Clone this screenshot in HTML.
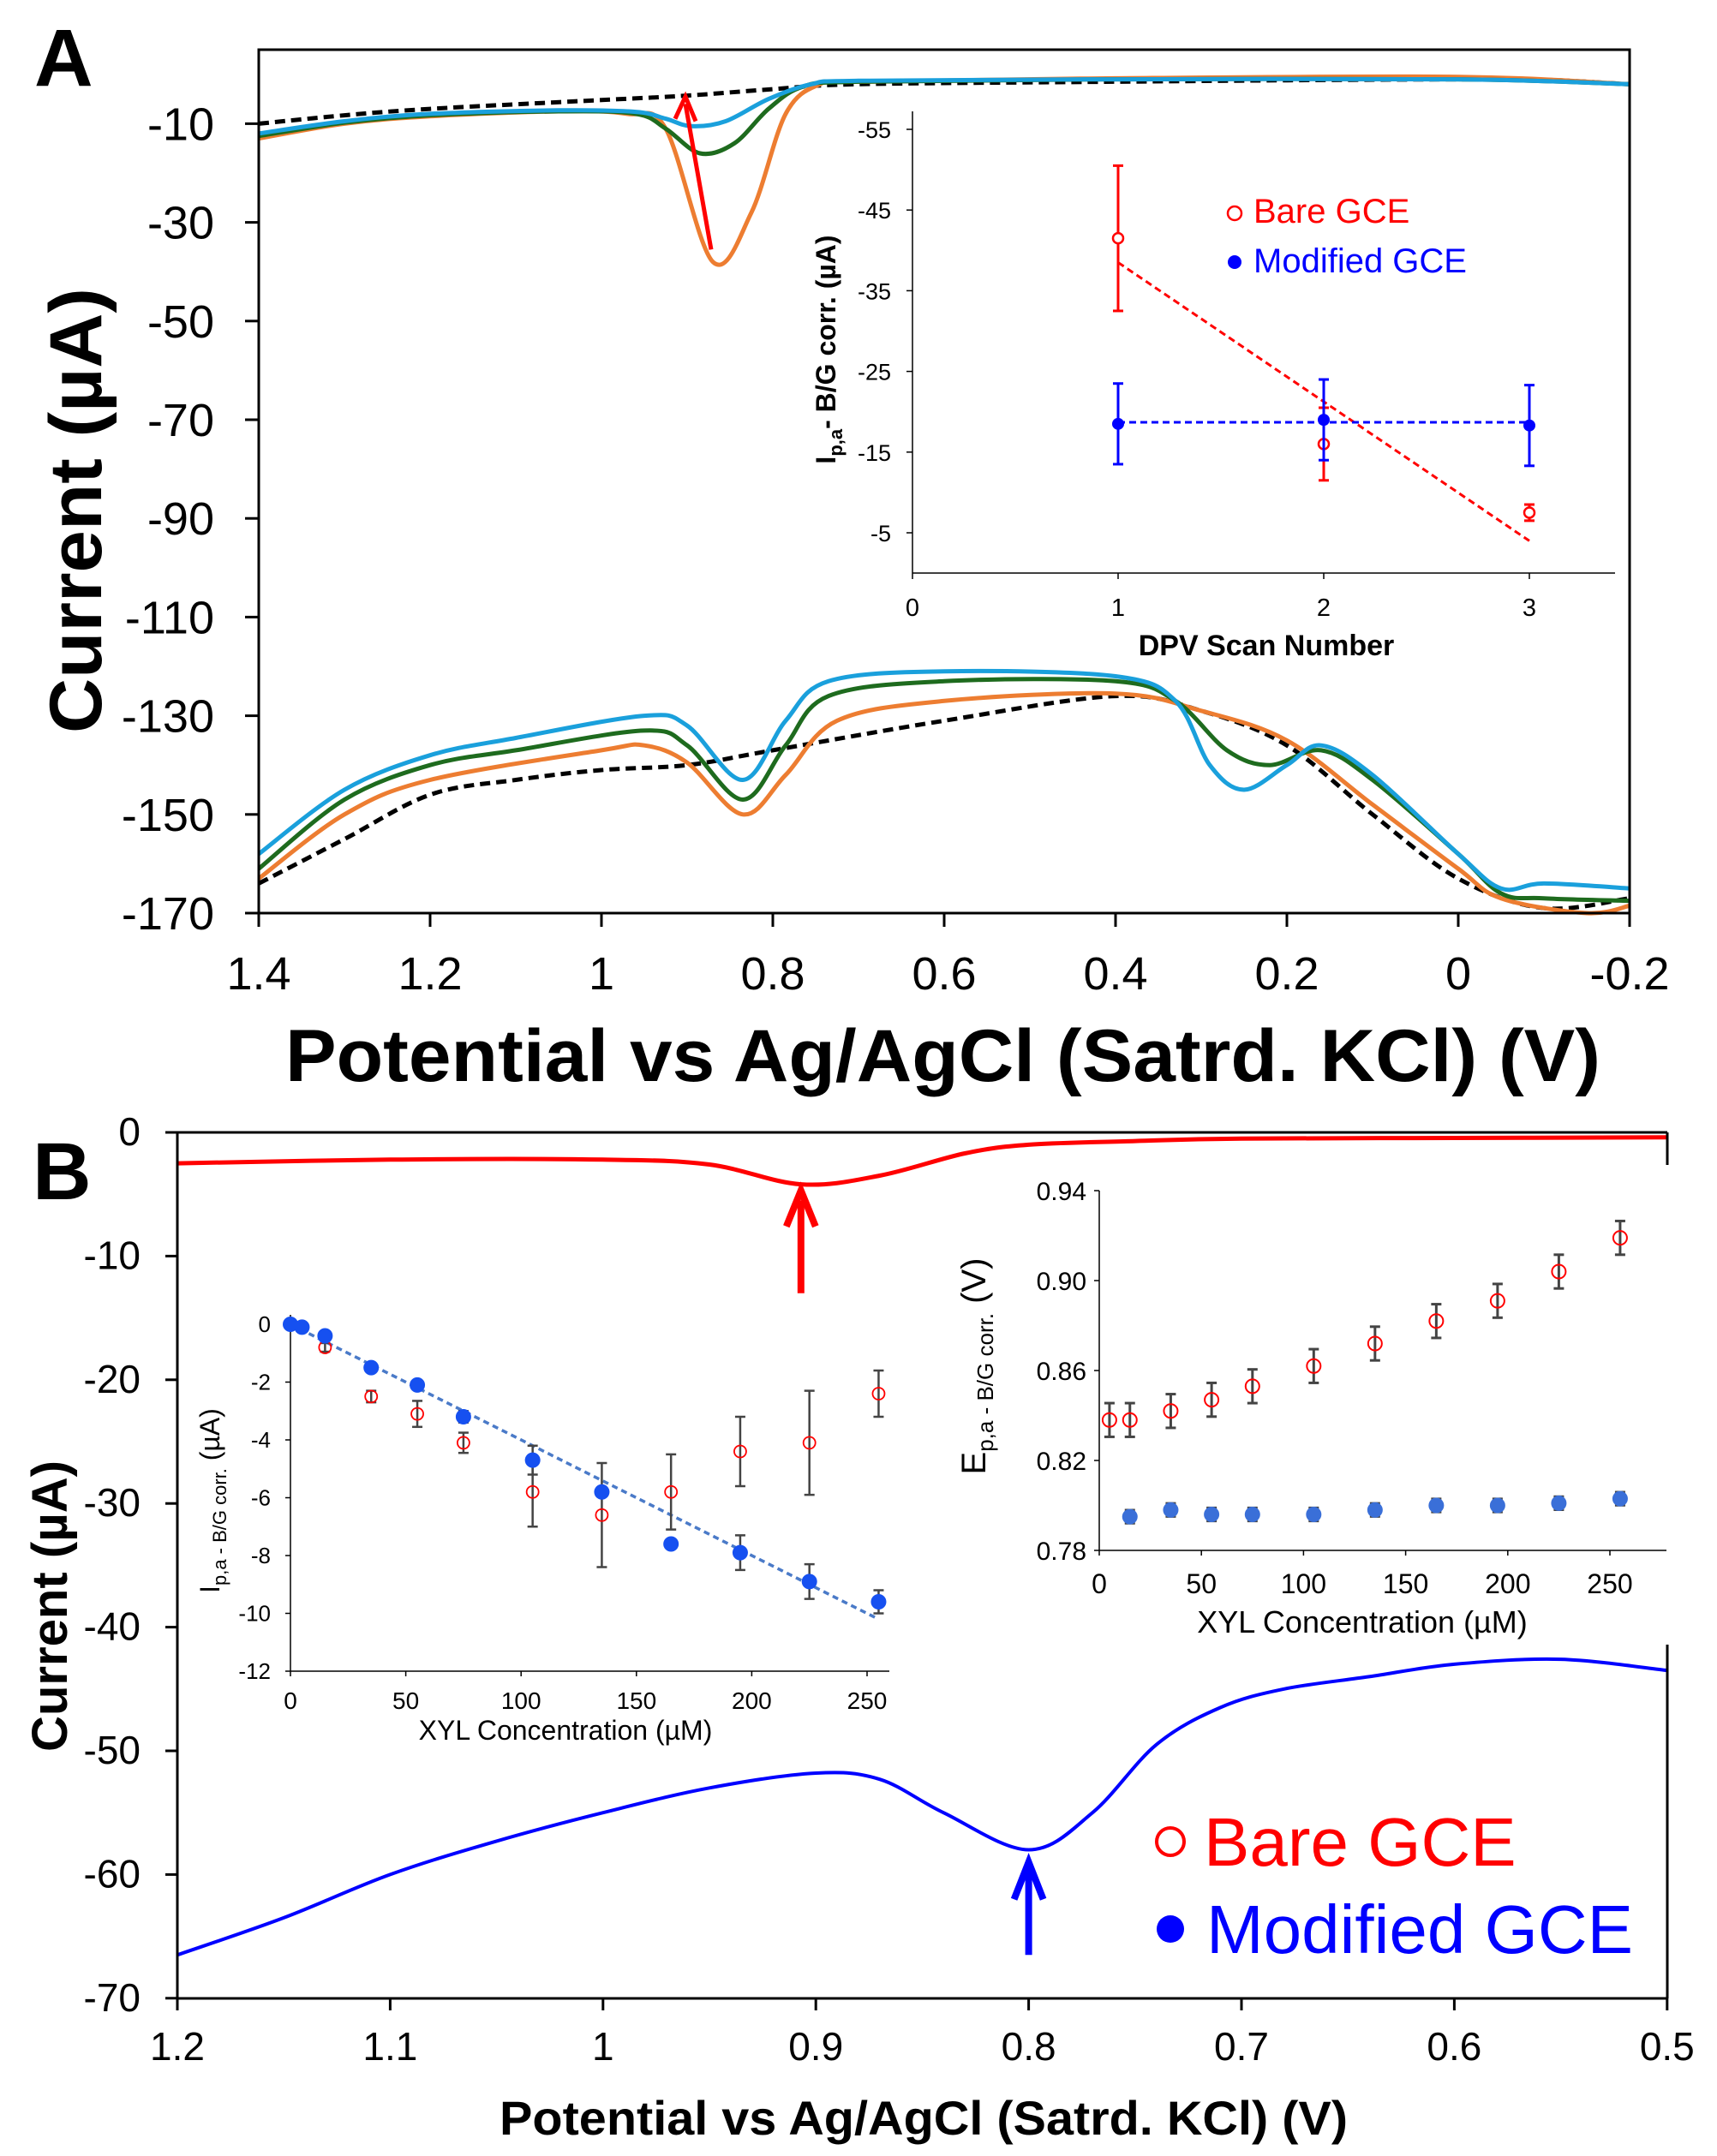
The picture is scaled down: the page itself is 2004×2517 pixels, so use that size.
<!DOCTYPE html>
<html><head><meta charset="utf-8"><style>
html,body{margin:0;padding:0;background:#fff}
svg{display:block;font-family:"Liberation Sans",Arial,sans-serif}
</style></head><body>
<svg id="s" width="2004" height="2517" viewBox="0 0 2004 2517" xmlns="http://www.w3.org/2000/svg">
<rect width="2004" height="2517" fill="#fff"/>
<g id="g"></g>
<text x="40" y="100" font-size="95" font-weight="bold">A</text>
<text x="333" y="1262" font-size="86" font-weight="bold" textLength="1535" lengthAdjust="spacingAndGlyphs">Potential vs Ag/AgCl (Satrd. KCl) (V)</text>
<text transform="translate(118,596) rotate(-90)" font-size="86" font-weight="bold" text-anchor="middle" textLength="520" lengthAdjust="spacingAndGlyphs">Current (µA)</text>
<text x="38" y="1400" font-size="95" font-weight="bold">B</text>
<text x="583" y="2492" font-size="56" font-weight="bold" textLength="990" lengthAdjust="spacingAndGlyphs">Potential vs Ag/AgCl (Satrd. KCl) (V)</text>
<text transform="translate(78,1875) rotate(-90)" font-size="58" font-weight="bold" text-anchor="middle" textLength="340" lengthAdjust="spacingAndGlyphs">Current (µA)</text>
<circle cx="1366" cy="2150" r="16" fill="none" stroke="#f00" stroke-width="4"/>
<text x="1405" y="2178" font-size="80" fill="#f00">Bare GCE</text>
<circle cx="1366" cy="2252" r="16" fill="#00f"/>
<text x="1408" y="2280" font-size="80" fill="#00f">Modified GCE</text>
</svg>
<script>
const NS="http://www.w3.org/2000/svg";const G=document.getElementById('g');
function el(t,a,txt){const e=document.createElementNS(NS,t);for(const k in a)e.setAttribute(k,a[k]);if(txt!==undefined)e.textContent=txt;G.appendChild(e);return e;}
function smooth(p){let d="M"+p[0][0].toFixed(1)+","+p[0][1].toFixed(1);for(let i=0;i<p.length-1;i++){const p0=p[i-1]||p[i],p1=p[i],p2=p[i+1],p3=p[i+2]||p2;const c1=[p1[0]+(p2[0]-p0[0])/6,p1[1]+(p2[1]-p0[1])/6],c2=[p2[0]-(p3[0]-p1[0])/6,p2[1]-(p3[1]-p1[1])/6];d+="C"+c1[0].toFixed(1)+","+c1[1].toFixed(1)+" "+c2[0].toFixed(1)+","+c2[1].toFixed(1)+" "+p2[0].toFixed(1)+","+p2[1].toFixed(1);}return d;}
// Panel A: x 302..1902, y 58..1066 (+5..-170)
const ax=v=>302+(1.4-v)/0.2*200, ay=v=>58+(5-v)*5.76;
function curveA(pts,col,w,dash){el('path',{d:smooth(pts.map(p=>[ax(p[0]),ay(p[1])])),fill:'none',stroke:col,'stroke-width':w,'stroke-dasharray':dash||'none'});}
const BL='#000',OR='#ed7d31',GR='#1e6b1e',CY='#1aa0dc';
curveA([[1.4,-10],[1.3,-8.3],[1.2,-7],[1.0,-5.2],[0.9,-4.3],[0.8,-3],[0.7,-2],[0.4,-1.5],[0.2,-1.2],[0,-1],[-0.1,-1.1],[-0.2,-2]],BL,5,'12,7');
curveA([[1.4,-13],[1.3,-10],[1.2,-8.5],[1.05,-7.5],[0.97,-8],[0.925,-11],[0.87,-38],[0.825,-28],[0.785,-8],[0.745,-2],[0.7,-1.5],[0.4,-0.8],[0,-0.5],[-0.2,-2]],OR,5);
curveA([[1.4,-12.5],[1.3,-9.8],[1.2,-8.3],[1.05,-7.5],[0.96,-8],[0.925,-11],[0.885,-16],[0.845,-14],[0.805,-7],[0.765,-2.5],[0.7,-1.5],[0.4,-1],[0,-1],[-0.2,-2]],GR,5);
curveA([[1.4,-12],[1.3,-9.5],[1.2,-8],[1.05,-7.3],[0.96,-7.6],[0.925,-9],[0.895,-10.5],[0.855,-9.5],[0.805,-5],[0.755,-2],[0.7,-1.3],[0.4,-1],[0,-1],[-0.2,-2]],CY,5);
el('line',{x1:ax(0.872),y1:ay(-35.5),x2:ax(0.902),y2:ay(-6),stroke:'#f00','stroke-width':5});
el('path',{d:`M${ax(0.914)},${ay(-9)} L${ax(0.902)},${ay(-4.5)} L${ax(0.89)},${ay(-9.5)}`,fill:'none',stroke:'#f00','stroke-width':5});
el('rect',{x:935,y:118,width:962,height:600,fill:'#fff'});
curveA([[1.4,-164],[1.3,-155],[1.2,-146],[1.1,-143],[1.0,-141],[0.9,-140],[0.8,-137],[0.6,-131],[0.4,-126],[0.3,-129],[0.2,-136],[0.1,-150],[0.0,-163],[-0.1,-169],[-0.2,-167]],BL,5,'12,7');
curveA([[1.4,-163],[1.3,-150],[1.2,-143],[1.0,-137],[0.95,-136],[0.9,-139.5],[0.835,-150],[0.785,-142],[0.725,-131],[0.6,-127],[0.4,-125.5],[0.3,-129],[0.2,-135],[0.1,-148],[0.0,-161],[-0.05,-167],[-0.15,-170],[-0.2,-168.5]],OR,5);
curveA([[1.4,-161],[1.3,-147],[1.2,-140],[1.1,-137],[0.95,-133],[0.9,-136],[0.835,-147],[0.785,-136],[0.735,-126],[0.6,-123],[0.4,-123],[0.33,-127],[0.27,-137],[0.22,-140],[0.16,-137],[0.1,-143],[0,-158],[-0.05,-166],[-0.1,-167],[-0.2,-167.5]],GR,5);
curveA([[1.4,-158],[1.3,-145],[1.2,-138],[1.1,-134.5],[0.95,-130],[0.9,-132],[0.835,-143],[0.785,-131],[0.735,-123],[0.6,-121],[0.4,-122],[0.33,-127],[0.29,-140],[0.25,-145],[0.2,-140],[0.16,-136],[0.1,-142],[0,-158],[-0.05,-165],[-0.1,-164],[-0.2,-165]],CY,5);
el('rect',{x:302,y:58,width:1600,height:1008,fill:'none',stroke:'#000','stroke-width':3});
for(let i=0;i<=8;i++){const v=1.4-i*0.2;el('line',{x1:ax(v),y1:1066,x2:ax(v),y2:1082,stroke:'#000','stroke-width':3});el('text',{x:ax(v),y:1155,'font-size':54,'text-anchor':'middle'},(Math.round(v*10)/10).toString());}
for(let i=0;i<=8;i++){const v=-10-20*i,y=ay(v);el('line',{x1:286,y1:y,x2:302,y2:y,stroke:'#000','stroke-width':3});el('text',{x:250,y:y+19,'font-size':54,'text-anchor':'end'},v);}
// Inset A
const ix=v=>1065+v*240, iy=v=>151+(v+55)*9.42;
el('line',{x1:1065,y1:130,x2:1065,y2:669,stroke:'#000','stroke-width':1.5});
el('line',{x1:1065,y1:669,x2:1885,y2:669,stroke:'#000','stroke-width':1.5});
[-55,-45,-35,-25,-15,-5].forEach(v=>{el('line',{x1:1058,y1:iy(v),x2:1065,y2:iy(v),stroke:'#000','stroke-width':1.5});el('text',{x:1040,y:iy(v)+10,'font-size':27,'text-anchor':'end'},v);});
[0,1,2,3].forEach(v=>{el('line',{x1:ix(v),y1:669,x2:ix(v),y2:676,stroke:'#000','stroke-width':1.5});el('text',{x:ix(v),y:719,'font-size':29,'text-anchor':'middle'},v);});
el('text',{x:1478,y:765,'font-size':34,'font-weight':'bold','text-anchor':'middle'},'DPV Scan Number');
const yt=el('text',{transform:'translate(975,408) rotate(-90)','font-size':32,'font-weight':'bold','text-anchor':'middle'});
yt.innerHTML='I<tspan font-size="22" dy="8">p,a</tspan><tspan dy="-8">- B/G corr. (µA)</tspan>';
el('line',{x1:ix(1),y1:iy(-38.5),x2:ix(3),y2:iy(-4),stroke:'#f00','stroke-width':3,'stroke-dasharray':'8,5'});
el('line',{x1:ix(1),y1:iy(-18.7),x2:ix(3),y2:iy(-18.7),stroke:'#00f','stroke-width':3,'stroke-dasharray':'8,5'});
function eb(x,y1,y2,c,w){el('line',{x1:x,y1:y1,x2:x,y2:y2,stroke:c,'stroke-width':w||3});el('line',{x1:x-6,y1:y1,x2:x+6,y2:y1,stroke:c,'stroke-width':w||3});el('line',{x1:x-6,y1:y2,x2:x+6,y2:y2,stroke:c,'stroke-width':w||3});}
[[1,-41.5,9],[2,-16,4.5],[3,-7.5,1]].forEach(d=>{eb(ix(d[0]),iy(d[1]-d[2]),iy(d[1]+d[2]),'#f00');el('circle',{cx:ix(d[0]),cy:iy(d[1]),r:6,fill:'#fff',stroke:'#f00','stroke-width':2.5});});
[[1,-18.5,5],[2,-19,5],[3,-18.3,5]].forEach(d=>{eb(ix(d[0]),iy(d[1]-d[2]),iy(d[1]+d[2]),'#00f');el('circle',{cx:ix(d[0]),cy:iy(d[1]),r:7,fill:'#00f'});});
el('circle',{cx:1441,cy:249,r:8,fill:'none',stroke:'#f00','stroke-width':2.5});
el('text',{x:1463,y:260,'font-size':40,fill:'#f00'},'Bare GCE');
el('circle',{cx:1441,cy:306,r:8,fill:'#00f'});
el('text',{x:1463,y:318,'font-size':40,fill:'#00f'},'Modified GCE');

// Panel B: x 207..1946, y 1322..2333
const bx=v=>207+(1.2-v)/0.1*248.4, by=v=>1322+(-v)/10*144.4;
function curveB(pts,col,w){el('path',{d:smooth(pts.map(p=>[bx(p[0]),by(p[1])])),fill:'none',stroke:col,'stroke-width':w});}
curveB([[1.2,-2.5],[1.1,-2.2],[1.0,-2.2],[0.95,-2.6],[0.907,-4.2],[0.87,-3.5],[0.83,-1.7],[0.8,-1],[0.75,-0.7],[0.7,-0.5],[0.6,-0.45],[0.5,-0.4]],'#f00',5);
curveB([[1.2,-66.5],[1.15,-63.5],[1.1,-60],[1.05,-57.3],[1.0,-55],[0.95,-53],[0.9,-51.8],[0.87,-52.3],[0.84,-55],[0.8,-58],[0.77,-55],[0.74,-49.5],[0.71,-46.5],[0.68,-45],[0.64,-44],[0.6,-43],[0.55,-42.6],[0.5,-43.5]],'#00f',4);
el('line',{x1:bx(0.907),y1:by(-13),x2:bx(0.907),y2:by(-5.5),stroke:'#f00','stroke-width':8});
el('path',{d:`M${bx(0.907)-17},${by(-7.6)} L${bx(0.907)},${by(-4.7)} L${bx(0.907)+17},${by(-7.6)}`,fill:'none',stroke:'#f00','stroke-width':8});
el('line',{x1:bx(0.8),y1:by(-66.5),x2:bx(0.8),y2:by(-59.5),stroke:'#00f','stroke-width':8});
el('path',{d:`M${bx(0.8)-17},${by(-62)} L${bx(0.8)},${by(-59)} L${bx(0.8)+17},${by(-62)}`,fill:'none',stroke:'#00f','stroke-width':8});
el('rect',{x:1170,y:1360,width:834,height:560,fill:'#fff'});
el('line',{x1:207,y1:1322,x2:207,y2:2333,stroke:'#000','stroke-width':3});
el('line',{x1:207,y1:2333,x2:1946,y2:2333,stroke:'#000','stroke-width':3});
el('line',{x1:207,y1:1322,x2:1946,y2:1322,stroke:'#000','stroke-width':3});
el('line',{x1:1946,y1:1322,x2:1946,y2:1360,stroke:'#000','stroke-width':3});
el('line',{x1:1946,y1:1920,x2:1946,y2:2333,stroke:'#000','stroke-width':3});
const bxl=['1.2','1.1','1','0.9','0.8','0.7','0.6','0.5'];
for(let i=0;i<=7;i++){const x=bx(1.2-i*0.1);el('line',{x1:x,y1:2333,x2:x,y2:2347,stroke:'#000','stroke-width':3});el('text',{x:x,y:2405,'font-size':46,'text-anchor':'middle'},bxl[i]);
const y=by(-10*i);el('line',{x1:193,y1:y,x2:207,y2:y,stroke:'#000','stroke-width':3});el('text',{x:164,y:y+15,'font-size':46,'text-anchor':'end'},i?-10*i:0);}
// Left inset B
const lx=v=>339+v/50*134.6, ly=v=>1546+(-v)/2*67.5;
el('line',{x1:339,y1:1535,x2:339,y2:1951,stroke:'#000','stroke-width':1.5});
el('line',{x1:339,y1:1951,x2:1038,y2:1951,stroke:'#000','stroke-width':1.5});
[0,-2,-4,-6,-8,-10,-12].forEach(v=>{el('line',{x1:333,y1:ly(v),x2:339,y2:ly(v),stroke:'#000','stroke-width':1.5});el('text',{x:316,y:ly(v)+9,'font-size':26,'text-anchor':'end'},v);});
[0,50,100,150,200,250].forEach(v=>{el('line',{x1:lx(v),y1:1951,x2:lx(v),y2:1957,stroke:'#000','stroke-width':1.5});el('text',{x:lx(v),y:1995,'font-size':28,'text-anchor':'middle'},v);});
el('text',{x:660,y:2031,'font-size':32,'text-anchor':'middle'},'XYL Concentration (µM)');
const yl=el('text',{transform:'translate(256,1752) rotate(-90)','font-size':32,'text-anchor':'middle'});
yl.innerHTML='I<tspan font-size="22" dy="8">p,a - B/G corr.</tspan><tspan dy="-8"> (µA)</tspan>';
el('line',{x1:lx(0),y1:ly(0),x2:lx(255),y2:ly(-10.2),stroke:'#4a7ac8','stroke-width':3.5,'stroke-dasharray':'7,5'});
const R=[[0,0,0],[5,-0.1,0],[15,-0.8,0.15],[35,-2.5,0.2],[55,-3.1,0.45],[75,-4.1,0.35],[105,-5.8,1.2],[135,-6.6,1.8],[165,-5.8,1.3],[195,-4.4,1.2],[225,-4.1,1.8],[255,-2.4,0.8]];
const Bf=[[0,0,0],[5,-0.1,0],[15,-0.4,0],[35,-1.5,0],[55,-2.1,0],[75,-3.2,0.2],[105,-4.7,0.5],[135,-5.8,0],[165,-7.6,0],[195,-7.9,0.6],[225,-8.9,0.6],[255,-9.6,0.4]];
R.forEach(d=>{if(d[2])eb(lx(d[0]),ly(d[1]-d[2]),ly(d[1]+d[2]),'#444',2.5);el('circle',{cx:lx(d[0]),cy:ly(d[1]),r:7,fill:'none',stroke:'#f00','stroke-width':1.8});});
Bf.forEach(d=>{if(d[2])eb(lx(d[0]),ly(d[1]-d[2]),ly(d[1]+d[2]),'#444',2.5);el('circle',{cx:lx(d[0]),cy:ly(d[1]),r:9,fill:'#1650f0'});});
// Right inset B
const rx=v=>1283+v/50*119.2, ry=v=>1810-(v-0.78)/0.04*105;
el('line',{x1:1283,y1:1390,x2:1283,y2:1810,stroke:'#000','stroke-width':1.5});
el('line',{x1:1283,y1:1810,x2:1945,y2:1810,stroke:'#000','stroke-width':1.5});
['0.94','0.90','0.86','0.82','0.78'].forEach(s=>{const v=parseFloat(s);el('line',{x1:1277,y1:ry(v),x2:1283,y2:ry(v),stroke:'#000','stroke-width':1.5});el('text',{x:1268,y:ry(v)+11,'font-size':30,'text-anchor':'end'},s);});
[0,50,100,150,200,250].forEach(v=>{el('line',{x1:rx(v),y1:1810,x2:rx(v),y2:1816,stroke:'#000','stroke-width':1.5});el('text',{x:rx(v),y:1860,'font-size':32,'text-anchor':'middle'},v);});
el('text',{x:1590,y:1906,'font-size':36,'text-anchor':'middle'},'XYL Concentration (µM)');
const yr=el('text',{transform:'translate(1150,1595) rotate(-90)','font-size':40,'text-anchor':'middle'});
yr.innerHTML='E<tspan font-size="26" dy="9">p,a - B/G corr.</tspan><tspan dy="-9">  (V)</tspan>';
[[5,0.838],[15,0.838],[35,0.842],[55,0.847],[75,0.853],[105,0.862],[135,0.872],[165,0.882],[195,0.891],[225,0.904],[255,0.919]].forEach(d=>{eb(rx(d[0]),ry(d[1]+0.0075),ry(d[1]-0.0075),'#444',3);el('circle',{cx:rx(d[0]),cy:ry(d[1]),r:8,fill:'none',stroke:'#f00','stroke-width':2});});
[[15,0.795],[35,0.798],[55,0.796],[75,0.796],[105,0.796],[135,0.798],[165,0.800],[195,0.800],[225,0.801],[255,0.803]].forEach(d=>{eb(rx(d[0]),ry(d[1]+0.003),ry(d[1]-0.003),'#444',2.5);el('circle',{cx:rx(d[0]),cy:ry(d[1]),r:9,fill:'#3a6fd8'});});
</script>
</body></html>
